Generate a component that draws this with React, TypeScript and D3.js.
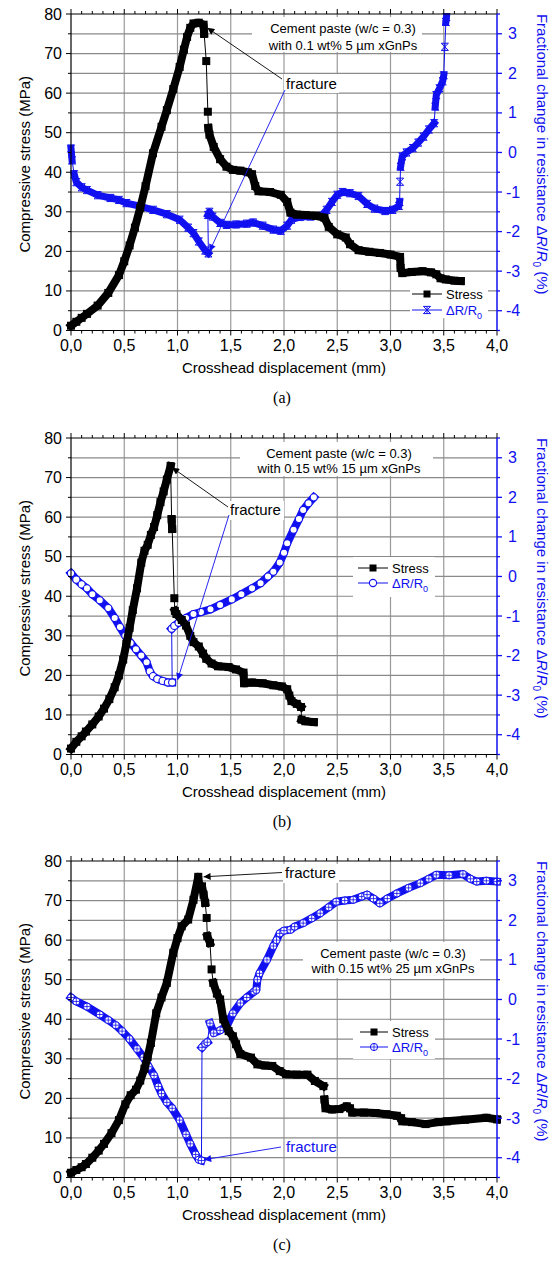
import React from 'react';
import * as d3 from 'd3';

type Pt = [number, number];

// axis ticks
const xTicks = [0, 0.5, 1, 1.5, 2, 2.5, 3, 3.5, 4];
const stressTicks = [0, 10, 20, 30, 40, 50, 60, 70, 80];
const drTicks = [-4, -3, -2, -1, 0, 1, 2, 3];

// (a) 0.1 wt% 5 um
const stressA: Pt[] = [
  [0, 1.2], [0.05, 2.2], [0.1, 3.2], [0.15, 4.2], [0.25, 6.3], [0.35, 9.5], [0.45, 14], [0.5, 17.5],
  [0.55, 21.5], [0.6, 26], [0.65, 31], [0.7, 36.5], [0.77, 44.8], [0.85, 51.5], [0.9, 55.7], [0.96, 61],
  [1.02, 66.6], [1.06, 71], [1.09, 74.2], [1.12, 76.5], [1.15, 77.6], [1.2, 77.8], [1.245, 77.3],
  [1.25, 75], [1.27, 68.1], [1.285, 55.3], [1.29, 51.2], [1.3, 49.5], [1.34, 46.4], [1.4, 43.3],
  [1.46, 41.4], [1.52, 40.6], [1.59, 40.4], [1.66, 40], [1.7, 39.5], [1.73, 36.5], [1.76, 35.2],
  [1.87, 35], [1.97, 34.3], [2.03, 32.5], [2.06, 29.8], [2.12, 29.3], [2.2, 29.2], [2.3, 29], [2.38, 28.5],
  [2.42, 26.2], [2.5, 24.3], [2.58, 23.5], [2.62, 21.8], [2.7, 20.3], [2.8, 19.9], [2.9, 19.6], [3.0, 19.2],
  [3.09, 18.6], [3.095, 15.8], [3.11, 14.5], [3.2, 14.8], [3.3, 15.0], [3.38, 14.7], [3.43, 14.2],
  [3.47, 13.2], [3.52, 12.9], [3.6, 12.6], [3.66, 12.5],
];
const drA: Pt[] = [
  [0, 0.1], [0.01, -0.2], [0.03, -0.55], [0.05, -0.75], [0.1, -0.88], [0.15, -0.95], [0.25, -1.08],
  [0.37, -1.15], [0.45, -1.2], [0.52, -1.28], [0.65, -1.36], [0.77, -1.45], [0.9, -1.56], [1.02, -1.7],
  [1.1, -1.9], [1.15, -2.04], [1.2, -2.25], [1.26, -2.48], [1.29, -2.55], [1.285, -1.58], [1.3, -1.5],
  [1.33, -1.62], [1.4, -1.78], [1.46, -1.83], [1.55, -1.82], [1.65, -1.8], [1.71, -1.77], [1.8, -1.85],
  [1.9, -1.95], [1.97, -1.98], [2.03, -1.85], [2.07, -1.7], [2.15, -1.63], [2.25, -1.62], [2.35, -1.6],
  [2.4, -1.45], [2.45, -1.25], [2.5, -1.07], [2.55, -1.0], [2.62, -1.03], [2.7, -1.1], [2.78, -1.3],
  [2.85, -1.42], [2.95, -1.48], [3.02, -1.45], [3.08, -1.35], [3.085, -1.25], [3.09, -0.74], [3.095, -0.36],
  [3.11, -0.1], [3.15, 0.0], [3.21, 0.11], [3.26, 0.25], [3.31, 0.4], [3.36, 0.58], [3.41, 0.74],
  [3.42, 1.16], [3.43, 1.45], [3.46, 1.62], [3.49, 1.8], [3.5, 1.95], [3.51, 2.67], [3.52, 3.3], [3.525, 3.42],
];

// (b) 0.15 wt% 15 um
const stressB: Pt[] = [
  [0, 1.5], [0.05, 3.2], [0.1, 4.6], [0.14, 5.8], [0.2, 7.6], [0.26, 9.6], [0.31, 11.6], [0.36, 14],
  [0.41, 17], [0.45, 20], [0.49, 24], [0.52, 28], [0.55, 32], [0.58, 36.5], [0.62, 42], [0.66, 48.5],
  [0.69, 51.5], [0.72, 53], [0.75, 55.5], [0.78, 57.5], [0.81, 60.5], [0.84, 63.8], [0.87, 66.5],
  [0.9, 69.5], [0.935, 72.9], [0.945, 59.5], [0.95, 57], [0.97, 39.5], [0.975, 36.3], [0.99, 35.5],
  [1.04, 34], [1.08, 32.6], [1.12, 30], [1.15, 28.4], [1.2, 27.3], [1.24, 25.5], [1.27, 24.2], [1.32, 23],
  [1.38, 22.3], [1.48, 22.1], [1.55, 21.5], [1.62, 20.7], [1.625, 18], [1.7, 18.2], [1.8, 18], [1.9, 17.5],
  [1.98, 17.2], [2.03, 16.5], [2.05, 14.9], [2.07, 13.5], [2.12, 12.8], [2.16, 12], [2.165, 8.8],
  [2.2, 8.4], [2.28, 8.2],
];
const drB: Pt[] = [
  [0, 0.08], [0.05, -0.08], [0.1, -0.2], [0.15, -0.3], [0.2, -0.45], [0.27, -0.6], [0.35, -0.8],
  [0.41, -1.05], [0.46, -1.28], [0.51, -1.5], [0.56, -1.68], [0.61, -1.84], [0.66, -2.0], [0.71, -2.17],
  [0.74, -2.4], [0.77, -2.52], [0.81, -2.59], [0.86, -2.64], [0.91, -2.68], [0.95, -2.68], [0.945, -1.32],
  [0.97, -1.25], [1.01, -1.17], [1.08, -1.05], [1.15, -0.95], [1.22, -0.9], [1.31, -0.83], [1.4, -0.72],
  [1.51, -0.58], [1.6, -0.45], [1.7, -0.3], [1.78, -0.17], [1.85, 0.0], [1.9, 0.12], [1.96, 0.35],
  [2.0, 0.6], [2.03, 0.84], [2.09, 1.18], [2.14, 1.45], [2.18, 1.68], [2.23, 1.85], [2.28, 2.0],
];

// (c) 0.15 wt% 25 um
const stressC: Pt[] = [
  [0, 1.2], [0.05, 1.9], [0.1, 2.6], [0.14, 3.4], [0.2, 5], [0.26, 6.8], [0.31, 8.5], [0.38, 11.2],
  [0.45, 14.5], [0.51, 18.5], [0.56, 20.8], [0.61, 22.2], [0.65, 24.5], [0.69, 27.5], [0.72, 30.5],
  [0.75, 34], [0.8, 41.5], [0.85, 45.5], [0.9, 49.2], [0.96, 56.8], [1.0, 60.5], [1.04, 63.5], [1.1, 65.2],
  [1.15, 70.2], [1.195, 76], [1.2, 74], [1.23, 73.6], [1.245, 71.5], [1.26, 69.4], [1.274, 65.6], [1.28, 61],
  [1.305, 59.3], [1.32, 52.6], [1.336, 49.2], [1.37, 46.5], [1.4, 45], [1.43, 40], [1.48, 37], [1.52, 35.7],
  [1.55, 33.7], [1.59, 31.2], [1.69, 30.3], [1.75, 28.6], [1.82, 28.3], [1.89, 28.2], [1.96, 26.9],
  [2.02, 26.1], [2.12, 26], [2.22, 26], [2.29, 24.4], [2.37, 23.1], [2.38, 19.7], [2.39, 17.5], [2.45, 17.2],
  [2.52, 17.3], [2.59, 18], [2.62, 17.5], [2.64, 16.4], [2.75, 16.4], [2.86, 16.3], [2.96, 16], [3.06, 15.6],
  [3.1, 15], [3.11, 14.2], [3.2, 14], [3.33, 13.5], [3.45, 14], [3.53, 14.2], [3.7, 14.6], [3.9, 15.1], [4.0, 14.7],
];
const drC: Pt[] = [
  [0, 0.05], [0.05, -0.05], [0.15, -0.18], [0.27, -0.38], [0.35, -0.52], [0.42, -0.65], [0.48, -0.8],
  [0.55, -1.0], [0.62, -1.25], [0.68, -1.46], [0.73, -1.7], [0.78, -1.92], [0.82, -2.2], [0.85, -2.38],
  [0.9, -2.6], [0.95, -2.75], [1.02, -3.05], [1.08, -3.41], [1.12, -3.65], [1.17, -3.92], [1.2, -4.05],
  [1.225, -4.07], [1.23, -1.21], [1.26, -1.12], [1.28, -1.08], [1.305, -0.6], [1.34, -0.85], [1.4, -0.78],
  [1.46, -0.68], [1.52, -0.35], [1.59, -0.09], [1.65, 0.05], [1.72, 0.2], [1.74, 0.24], [1.75, 0.5],
  [1.77, 0.66], [1.84, 1.0], [1.9, 1.35], [1.93, 1.5], [1.96, 1.67], [2.0, 1.74], [2.06, 1.76], [2.1, 1.84],
  [2.18, 1.93], [2.26, 2.05], [2.34, 2.18], [2.42, 2.33], [2.49, 2.47], [2.57, 2.5], [2.65, 2.52],
  [2.73, 2.6], [2.78, 2.65], [2.84, 2.55], [2.9, 2.43], [2.97, 2.55], [3.06, 2.68], [3.17, 2.82],
  [3.28, 2.94], [3.36, 3.05], [3.43, 3.15], [3.55, 3.14], [3.68, 3.17], [3.75, 3.05], [3.81, 2.98],
  [3.9, 3.0], [4.0, 2.98],
];

const notes = [
  ['Cement paste (w/c = 0.3)', 'with 0.1 wt% 5 µm xGnPs'],
  ['Cement paste (w/c = 0.3)', 'with 0.15 wt% 15 µm xGnPs'],
  ['Cement paste (w/c = 0.3)', 'with 0.15 wt% 25 µm xGnPs'],
];
const panelLabels = ['(a)', '(b)', '(c)'];

const BLUE = '#1010f0';
const FONT = '"Liberation Sans", Arial, sans-serif';
const W = 559, H = 1263;
const L = 71, R = 497, PH = 316.5;
const panelTops = [14, 438, 861];

const x = d3.scaleLinear().domain([0, 4]).range([L, R]);
const fmtX = (v: number) => d3.format('.1f')(v).replace('.', ',');

// annotation layout per panel (pixels relative to panel origin, targets in data units)
const layouts = [
  {
    note: { cx: 343, y1: 32.5, y2: 49.5, box: [252, 17, 170, 35] },
    frac: { x: 286, y: 89, box: [284, 74, 55, 19] },
    blackArrow: { from: [282, 79], to: [1.28, 76.5] },
    blueArrow: { from: [285, 90], to: [1.3, -2.5] },
    legend: { box: [410, 283, 78, 35], r1: 294, r2: 310, x0: 412, x1: 442, tx: 446 },
  },
  {
    note: { cx: 339, y1: 33.5, y2: 49, box: [240, 18, 193, 34] },
    frac: { x: 230, y: 91, box: [228, 77, 56, 19] },
    blackArrow: { from: [228, 83], to: [0.95, 72.5] },
    blueArrow: { from: [229, 91], to: [1.0, -2.62] },
    legend: { box: [353, 133, 82, 40], r1: 144, r2: 159, x0: 358, x1: 388, tx: 392 },
  },
  {
    note: { cx: 393, y1: 110.5, y2: 125.5, box: [303, 95, 177, 36] },
    frac: { x: 285, y: 31, box: [283, 17, 56, 19] },
    blackArrow: { from: [282, 25.5], to: [1.245, 76] },
    blueFrac: { x: 286, y: 305 },
    blueArrow: { from: [281, 300], to: [1.25, -4.05] },
    legend: { box: [353, 174, 82, 38], r1: 185, r2: 200, x0: 360, x1: 388, tx: 392 },
  },
];

type MarkerKind = 'square' | 'hourglass' | 'circle' | 'crosscircle';

function Marker({ kind, cx, cy, color }: { kind: MarkerKind; cx: number; cy: number; color: string }) {
  const s = 3.6;
  if (kind === 'square') return <rect x={cx - 4} y={cy - 4} width={8} height={8} fill={color} />;
  if (kind === 'hourglass')
    return (
      <path
        d={`M${cx - s},${cy - s}H${cx + s}L${cx - s},${cy + s}H${cx + s}Z M${cx},${cy - s}V${cy + s}`}
        fill="none" stroke={color} strokeWidth={1} />
    );
  if (kind === 'circle') return <circle cx={cx} cy={cy} r={s} fill="white" stroke={color} strokeWidth={1.1} />;
  return (
    <g>
      <circle cx={cx} cy={cy} r={s} fill="white" stroke={color} strokeWidth={1} />
      <path d={`M${cx - s},${cy}H${cx + s}M${cx},${cy - s}V${cy + s}`} stroke={color} strokeWidth={0.8} />
    </g>
  );
}

function Series({ pts, y, color, kind, band }: { pts: Pt[]; y: d3.ScaleLinear<number, number>; color: string; kind: MarkerKind; band: number }) {
  const px: [number, number][] = pts.map(p => [x(p[0]), y(p[1])]);
  const runs: [number, number][][] = [];
  let cur: [number, number][] = [px[0]];
  for (let i = 1; i < px.length; i++) {
    const dx = Math.abs(px[i][0] - px[i - 1][0]);
    const dy = Math.abs(px[i][1] - px[i - 1][1]);
    if (dx < 3 && dy > 12) {
      runs.push(cur);
      cur = [px[i]];
    } else cur.push(px[i]);
  }
  runs.push(cur);
  const line = d3.line();
  return (
    <g>
      <path d={line(px) || ''} fill="none" stroke={color} strokeWidth={1} />
      {runs.filter(r => r.length > 1).map((r, i) => (
        <path key={i} d={line(r) || ''} fill="none" stroke={color} strokeWidth={band} strokeLinejoin="round" strokeLinecap="square" />
      ))}
      {px.map((p, i) => <Marker key={i} kind={kind} cx={p[0]} cy={p[1]} color={color} />)}
    </g>
  );
}

function Panel({ idx, stress, dr, kind }: { idx: number; stress: Pt[]; dr: Pt[]; kind: MarkerKind }) {
  const top = panelTops[idx];
  const bottom = top + PH;
  const oy = top - 14;
  const yL = d3.scaleLinear().domain([0, 80]).range([bottom, top]);
  const yR = d3.scaleLinear().domain([-4.5, 3.5]).range([bottom, top]);
  const lay: any = layouts[idx];
  const minorX = d3.range(0, 4.0001, 0.1);
  const minorL = d3.range(0, 80.001, 5);
  const minorR = d3.range(-4.5, 3.5001, 0.5);
  const cy = (top + bottom) / 2;
  const bx = lay.blackArrow.to, bl = lay.blueArrow.to;
  return (
    <g fontFamily={FONT}>
      {/* grid */}
      {xTicks.slice(1, -1).map(t => (
        <line key={'gx' + t} x1={x(t)} x2={x(t)} y1={top} y2={bottom} stroke="#9a9a9a" strokeWidth={1.2} />
      ))}
      {minorL.slice(1, -1).map(t => (
        <line key={'gy' + t} x1={L} x2={R} y1={yL(t)} y2={yL(t)} stroke="#8a8a8a" strokeWidth={1.2} />
      ))}

      {/* white boxes behind notes */}
      <rect x={lay.note.box[0]} y={oy + lay.note.box[1]} width={lay.note.box[2]} height={lay.note.box[3]} fill="white" />
      <rect x={lay.frac.box[0]} y={oy + lay.frac.box[1]} width={lay.frac.box[2]} height={lay.frac.box[3]} fill="white" />
      <rect x={lay.legend.box[0]} y={oy + lay.legend.box[1]} width={lay.legend.box[2]} height={lay.legend.box[3]} fill="white" />

      {/* data */}
      <Series pts={dr} y={yR} color={BLUE} kind={kind} band={kind === 'hourglass' ? 7 : 8} />
      <Series pts={stress} y={yL} color="#000" kind="square" band={8} />

      {/* axes frame */}
      <line x1={L} x2={R} y1={top} y2={top} stroke="#000" strokeWidth={1.2} />
      <line x1={L} x2={R} y1={bottom} y2={bottom} stroke="#000" strokeWidth={1.2} />
      <line x1={L} x2={L} y1={top} y2={bottom} stroke="#000" strokeWidth={1.2} />
      <line x1={R} x2={R} y1={top} y2={bottom} stroke={BLUE} strokeWidth={1.5} />

      {minorX.map((t, i) => {
        const major = i % 5 === 0;
        const len = major ? 5 : 3;
        return (
          <g key={'tx' + i}>
            <line x1={x(t)} x2={x(t)} y1={bottom} y2={bottom + len} stroke="#000" />
            <line x1={x(t)} x2={x(t)} y1={top} y2={top - len} stroke="#000" />
          </g>
        );
      })}
      {xTicks.map(t => (
        <text key={'lx' + t} x={x(t)} y={bottom + 20.5} textAnchor="middle" fontSize={16}>{fmtX(t)}</text>
      ))}

      {minorL.map((t, i) => (
        <line key={'tl' + i} x1={L} x2={L - (i % 2 === 0 ? 5 : 3)} y1={yL(t)} y2={yL(t)} stroke="#000" />
      ))}
      {stressTicks.map(t => (
        <text key={'ll' + t} x={62} y={yL(t) + 5.5} textAnchor="end" fontSize={16}>{t}</text>
      ))}

      {minorR.map((t, i) => (
        <line key={'tr' + i} x1={R} x2={R + (Number.isInteger(t) ? 5 : 3)} y1={yR(t)} y2={yR(t)} stroke={BLUE} strokeWidth={1.3} />
      ))}
      {drTicks.map(t => (
        <text key={'lr' + t} x={t < 0 ? 506 : 508} y={yR(t) + 5.5} fontSize={16} fill={BLUE}>{t}</text>
      ))}

      {/* titles */}
      <text transform={`translate(30,${cy - 8}) rotate(-90)`} textAnchor="middle" fontSize={15}>Compressive stress (MPa)</text>
      <text transform={`translate(537,${cy - 18}) rotate(90)`} textAnchor="middle" fontSize={15} fill={BLUE}>
        Fractional change in resistance Δ<tspan fontStyle="italic">R</tspan>/<tspan fontStyle="italic">R</tspan>
        <tspan fontSize={10} dy={4}>0</tspan><tspan dy={-4}> (%)</tspan>
      </text>
      <text x={(L + R) / 2} y={bottom + 42.5} textAnchor="middle" fontSize={15}>Crosshead displacement (mm)</text>
      <text x={(L + R) / 2 - 2} y={bottom + 72.5} textAnchor="middle" fontSize={16} fontFamily='"Liberation Serif", "Times New Roman", serif'>{panelLabels[idx]}</text>

      {/* notes */}
      <text x={lay.note.cx} y={oy + lay.note.y1} textAnchor="middle" fontSize={13}>{notes[idx][0]}</text>
      <text x={lay.note.cx} y={oy + lay.note.y2} textAnchor="middle" fontSize={13}>{notes[idx][1]}</text>
      <text x={lay.frac.x} y={oy + lay.frac.y} fontSize={15}>fracture</text>
      <line x1={lay.blackArrow.from[0]} y1={oy + lay.blackArrow.from[1]} x2={x(bx[0])} y2={yL(bx[1])}
        stroke="#000" strokeWidth={0.9} markerEnd="url(#arrBlack)" />
      {lay.blueFrac && <text x={lay.blueFrac.x} y={oy + lay.blueFrac.y} fontSize={15} fill={BLUE}>fracture</text>}
      <line x1={lay.blueArrow.from[0]} y1={oy + lay.blueArrow.from[1]} x2={x(bl[0])} y2={yR(bl[1])}
        stroke={BLUE} strokeWidth={0.9} markerEnd="url(#arrBlue)" />

      {/* legend */}
      <line x1={lay.legend.x0} x2={lay.legend.x1} y1={oy + lay.legend.r1} y2={oy + lay.legend.r1} stroke="#000" />
      <rect x={(lay.legend.x0 + lay.legend.x1) / 2 - 3.5} y={oy + lay.legend.r1 - 3.5} width={7} height={7} fill="#000" />
      <text x={lay.legend.tx} y={oy + lay.legend.r1 + 4.5} fontSize={13}>Stress</text>
      <line x1={lay.legend.x0} x2={lay.legend.x1} y1={oy + lay.legend.r2} y2={oy + lay.legend.r2} stroke={BLUE} />
      <Marker kind={kind} cx={(lay.legend.x0 + lay.legend.x1) / 2} cy={oy + lay.legend.r2} color={BLUE} />
      <text x={lay.legend.tx} y={oy + lay.legend.r2 + 4.5} fontSize={13} fill={BLUE}>
        ΔR/R<tspan fontSize={9} dy={4}>0</tspan>
      </text>
    </g>
  );
}

export default function App() {
  return (
    <div style={{ position: 'absolute', left: 0, top: 0 }}>
      <svg width={W} height={H} style={{ display: 'block', background: 'white' }}>
        <defs>
          <marker id="arrBlack" viewBox="0 0 10 10" refX="10" refY="5" markerWidth="9" markerHeight="7" markerUnits="userSpaceOnUse" orient="auto">
            <path d="M0,0L10,5L0,10Z" fill="#000" />
          </marker>
          <marker id="arrBlue" viewBox="0 0 10 10" refX="10" refY="5" markerWidth="9" markerHeight="7" markerUnits="userSpaceOnUse" orient="auto">
            <path d="M0,0L10,5L0,10Z" fill={BLUE} />
          </marker>
        </defs>
        <Panel idx={0} stress={stressA} dr={drA} kind="hourglass" />
        <Panel idx={1} stress={stressB} dr={drB} kind="circle" />
        <Panel idx={2} stress={stressC} dr={drC} kind="crosscircle" />
      </svg>
    </div>
  );
}
